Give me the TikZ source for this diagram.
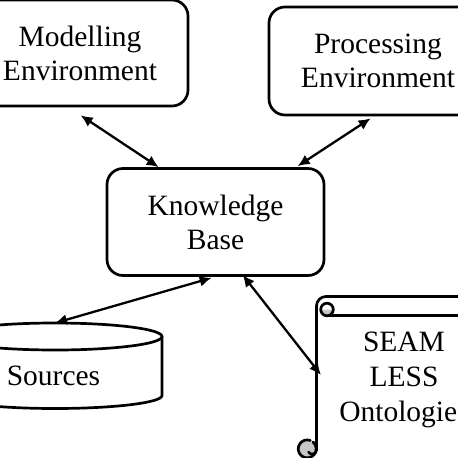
\documentclass[tikz,border=0pt]{standalone}
\usepackage{fontspec}
\setmainfont{Liberation Serif}
\usetikzlibrary{arrows.meta,calc}
\tikzset{
  boxnode/.style={draw, line width=2.7pt, rounded corners=16pt, minimum width=217pt,
    minimum height=107pt, inner sep=0pt, align=center,
    font=\fontsize{29.5}{34}\selectfont},
  txt/.style={inner sep=0pt, align=center, font=\fontsize{29.5}{34}\selectfont},
  link/.style={line width=2.3pt, {Latex[length=12pt,width=11pt]}-{Latex[length=12pt,width=11pt]}},
  outl/.style={line width=2.7pt, line cap=round, line join=round},
}
\begin{document}
\begin{tikzpicture}[x=1pt,y=-1pt]
\useasboundingbox (0,0) rectangle (458,458);
\clip (0,0) rectangle (458,458);
% boxes
\node[boxnode, minimum width=216pt, minimum height=106pt] (mod) at (80,53) {Modelling\\Environment};
\node[boxnode, minimum width=218pt, minimum height=108pt] (proc) at (378,61) {Processing\\Environment};
\node[boxnode] (kb) at (215.5,222) {Knowledge\\Base};
% cylinder (Sources)
\draw[outl, fill=white] (162,336.5) -- (162,395.5)
  arc[start angle=0, end angle=-180, x radius=107pt, y radius=13pt] -- (-52,336.5);
\draw[outl] (55,336.5) ellipse [x radius=107pt, y radius=13.5pt];
\node[txt, anchor=base] (src) at (53.5,385) {Sources};
\coordinate (srctop) at (55,323);
% scroll (Ontologies)
\draw[outl] (470,296.5) -- (326,296.5) arc[start angle=90, end angle=180, radius=9.5pt] -- (316.5,450);
\draw[outl] (327,315.5) -- (470,315.5);
\fill[gray!45] (320.7,309.5) arc[start angle=180, end angle=360, radius=6.3pt] -- cycle;
\draw[outl] (327,309.5) circle[radius=6.3pt];
\fill[gray!45] (307,449) circle[radius=9pt];
\draw[outl] (313,442) arc[start angle=50, end angle=-290, radius=9pt];
\draw[outl] (316.5,450) arc[start angle=0, end angle=-150, radius=4.2pt];
\node[txt, font=\fontsize{29.5}{35}\selectfont] (onto) at (404,379.5) {SEAM\\LESS\\Ontologie\phantom{s}};
\coordinate (scrollL) at (321,375);
% connectors
\draw[link] ($(mod.south west)+(110,8)$) -- ($(kb.north west)+(53,0)$);
\draw[link] ($(proc.south west)+(103,2)$) -- ($(kb.north west)+(192,-1)$);
\draw[link] ($(kb.south west)+(106,1)$) -- (srctop);
\draw[link] ($(kb.south west)+(137,-2)$) -- (scrollL);
\end{tikzpicture}
\end{document}
